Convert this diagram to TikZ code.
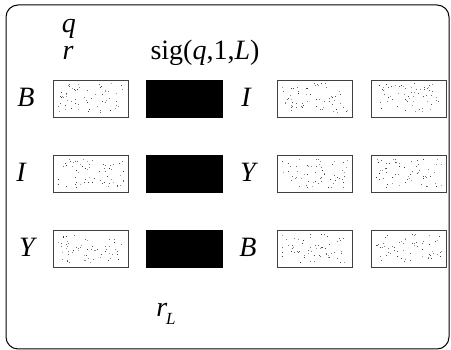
\documentclass[tikz,border=0pt]{standalone}
\usepackage{fontspec}
\setmainfont{Liberation Serif}
\begin{document}
\begin{tikzpicture}[x=1pt,y=1pt,
  lbl/.style={font=\fontsize{28}{32}\selectfont\itshape, inner sep=0pt, anchor=base},
  txt/.style={font=\fontsize{28}{32}\selectfont, inner sep=0pt, anchor=base},
  dotbox/.style={draw=black!75, line width=0.8pt, minimum width=75pt, minimum height=37pt, inner sep=0pt, fill=white},
  blackbox/.style={fill=black, draw=black, minimum width=76pt, minimum height=37pt, inner sep=0pt},
  frame/.style={draw=black, line width=1pt, rounded corners=12pt}
]
\useasboundingbox (0,0) rectangle (451,350);
\draw[frame] (6,1) rectangle (449,345);
% text labels
\node[lbl] (q) at (69,317) {q};
\node[lbl] (r) at (68,290) {r};
\node[txt] (sig) at (205,290) {sig(\textit{q},1,\textit{L})};
\node[lbl] (rl) at (166,33) {r\kern-1pt\raisebox{-8pt}{\fontsize{17}{20}\selectfont L}};
% row labels
\node[lbl] (lB1) at (26,243) {B};
\node[lbl] (lI1) at (246,243) {I};
\node[lbl] (lI2) at (21,168) {I};
\node[lbl] (lY2) at (248,168) {Y};
\node[lbl] (lY3) at (27,93) {Y};
\node[lbl] (lB3) at (248,93) {B};
% boxes
\foreach \r/\y in {1/251.5,2/176,3/101}{
  \node[dotbox] (a\r) at (90.5,\y) {};
  \node[blackbox] (k\r) at (184,\y) {};
  \node[dotbox] (c\r) at (314.5,\y) {};
  \node[dotbox] (d\r) at (408.5,\y) {};
}
\pgfmathsetseed{7}
\foreach \b in {a1,a2,a3,c1,c2,c3,d1,d2,d3}{
  \foreach \i in {1,...,60}{
    \pgfmathsetmacro{\dx}{rnd*66-33}
    \pgfmathsetmacro{\dy}{rnd*29-14.5}
    \pgfmathsetmacro{\g}{rnd*45+35}
    \fill[black!\g] ([shift={(\dx,\dy)}]\b.center) rectangle ++(1,1);
  }
}
\end{tikzpicture}
\end{document}
